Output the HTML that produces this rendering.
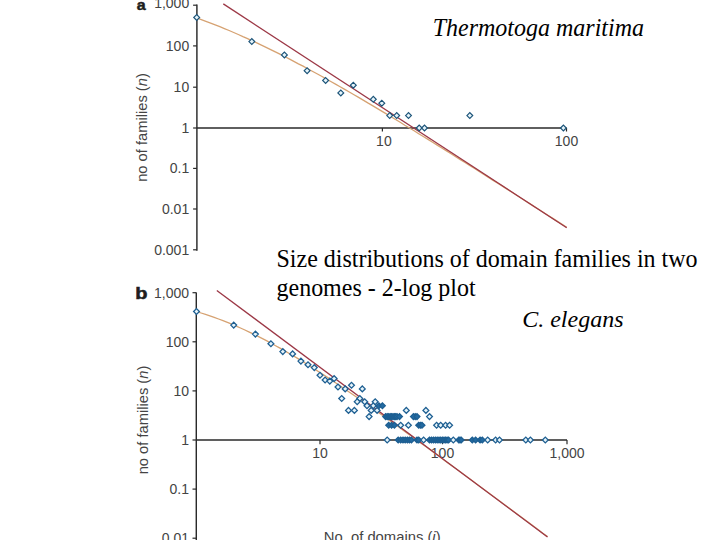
<!DOCTYPE html>
<html><head><meta charset="utf-8"><style>
html,body{margin:0;padding:0;background:#fff;}
body{width:720px;height:540px;overflow:hidden;position:relative;}
svg{position:absolute;left:0;top:0;}
.t{font-family:"Liberation Sans",sans-serif;fill:#444444;}
.s{font-family:"Liberation Serif",serif;fill:#000;}
</style></head><body>
<svg width="720" height="540" viewBox="0 0 720 540">
<line x1="196.9" y1="4.6" x2="196.9" y2="250.8" stroke="#2a2a2a" stroke-width="1.45"/>
<line x1="193.1" y1="5.2" x2="196.9" y2="5.2" stroke="#2a2a2a" stroke-width="1.2"/>
<text class="t" x="189.2" y="8.2" font-size="14" text-anchor="end">1,000</text>
<line x1="193.1" y1="45.9" x2="196.9" y2="45.9" stroke="#2a2a2a" stroke-width="1.2"/>
<text class="t" x="189.2" y="50.9" font-size="14" text-anchor="end">100</text>
<line x1="193.1" y1="87.2" x2="196.9" y2="87.2" stroke="#2a2a2a" stroke-width="1.2"/>
<text class="t" x="189.2" y="92.2" font-size="14" text-anchor="end">10</text>
<line x1="193.1" y1="128.0" x2="196.9" y2="128.0" stroke="#2a2a2a" stroke-width="1.2"/>
<text class="t" x="189.2" y="133.0" font-size="14" text-anchor="end">1</text>
<line x1="193.1" y1="168.4" x2="196.9" y2="168.4" stroke="#2a2a2a" stroke-width="1.2"/>
<text class="t" x="189.2" y="173.4" font-size="14" text-anchor="end">0.1</text>
<line x1="193.1" y1="209.0" x2="196.9" y2="209.0" stroke="#2a2a2a" stroke-width="1.2"/>
<text class="t" x="189.2" y="214.0" font-size="14" text-anchor="end">0.01</text>
<line x1="193.1" y1="249.8" x2="196.9" y2="249.8" stroke="#2a2a2a" stroke-width="1.2"/>
<text class="t" x="189.2" y="254.8" font-size="14" text-anchor="end">0.001</text>
<line x1="196.9" y1="128.0" x2="566.5" y2="128.0" stroke="#2a2a2a" stroke-width="1.5"/>
<line x1="382.4" y1="128.0" x2="382.4" y2="131.5" stroke="#2a2a2a" stroke-width="1.2"/>
<text class="t" x="383.9" y="145.5" font-size="14" text-anchor="middle">10</text>
<line x1="566.5" y1="128.0" x2="566.5" y2="131.5" stroke="#2a2a2a" stroke-width="1.2"/>
<text class="t" x="566.5" y="145.5" font-size="14" text-anchor="middle">100</text>
<text transform="translate(136.8,9.6) scale(1.08,1)" font-family="Liberation Sans" font-weight="bold" font-size="14.8" fill="#1e1e1e" stroke="#1e1e1e" stroke-width="0.5">a</text>
<text class="t" transform="translate(147.4,127.5) rotate(-90)" font-size="14.7" text-anchor="middle">no of families (<tspan font-style="italic">n</tspan>)</text>
<polyline points="196.7,17.9 201.3,19.6 205.9,21.3 210.6,23.1 215.2,24.9 219.8,26.7 224.4,28.6 229.1,30.5 233.7,32.5 238.3,34.5 242.9,36.6 247.6,38.6 252.2,40.8 256.8,42.9 261.4,45.1 266.1,47.3 270.7,49.6 275.3,51.9 279.9,54.2 284.6,56.5 289.2,58.9 293.8,61.3 298.4,63.8 303.1,66.2 307.7,68.7 312.3,71.2 317.0,73.7 321.6,76.3 326.2,78.9 330.8,81.5 335.5,84.1 340.1,86.7 344.7,89.4 349.3,92.0 354.0,94.7 358.6,97.4 363.2,100.1 367.8,102.9 372.5,105.6 377.1,108.4 381.7,111.1 386.3,113.9 391.0,116.7 395.6,119.5 400.2,122.3 404.8,125.2 409.5,128.0 414.1,130.8 418.7,133.7 423.3,136.5 428.0,139.4 432.6,142.3 437.2,145.1 441.8,148.0 446.5,150.9 451.1,153.8 455.7,156.7 460.3,159.6 465.0,162.5 469.6,165.4 474.2,168.3 478.8,171.3 483.5,174.2 488.1,177.1 492.7,180.1 497.3,183.0 502.0,185.9 506.6,188.9 511.2,191.8 515.8,194.8 520.5,197.7 525.1,200.7 529.7,203.6 534.3,206.6 539.0,209.5 543.6,212.5 548.2,215.5 552.8,218.4 557.5,221.4 562.1,224.3 566.7,227.3" fill="none" stroke="#d6a272" stroke-width="1.3"/>
<line x1="223.3" y1="3.9" x2="566.7" y2="227.8" stroke="#9c3846" stroke-width="1.3"/>
<path d="M193.8 17.4L196.7 14.5L199.6 17.4L196.7 20.3Z" fill="#e6f4fa" stroke="#1c5479" stroke-width="1.2"/>
<path d="M248.9 41.6L251.8 38.7L254.7 41.6L251.8 44.5Z" fill="#e6f4fa" stroke="#1c5479" stroke-width="1.2"/>
<path d="M281.5 54.9L284.4 52.0L287.3 54.9L284.4 57.8Z" fill="#e6f4fa" stroke="#1c5479" stroke-width="1.2"/>
<path d="M304.2 70.7L307.1 67.8L310.0 70.7L307.1 73.6Z" fill="#e6f4fa" stroke="#1c5479" stroke-width="1.2"/>
<path d="M322.7 80.4L325.6 77.5L328.5 80.4L325.6 83.3Z" fill="#e6f4fa" stroke="#1c5479" stroke-width="1.2"/>
<path d="M337.9 92.9L340.8 90.0L343.7 92.9L340.8 95.8Z" fill="#e6f4fa" stroke="#1c5479" stroke-width="1.2"/>
<path d="M350.4 85.2L353.3 82.3L356.2 85.2L353.3 88.1Z" fill="#e6f4fa" stroke="#1c5479" stroke-width="1.2"/>
<path d="M370.4 99.3L373.3 96.4L376.2 99.3L373.3 102.2Z" fill="#e6f4fa" stroke="#1c5479" stroke-width="1.2"/>
<path d="M378.9 103.2L381.8 100.3L384.7 103.2L381.8 106.1Z" fill="#e6f4fa" stroke="#1c5479" stroke-width="1.2"/>
<path d="M386.8 115.6L389.7 112.7L392.6 115.6L389.7 118.5Z" fill="#e6f4fa" stroke="#1c5479" stroke-width="1.2"/>
<path d="M393.8 115.6L396.7 112.7L399.6 115.6L396.7 118.5Z" fill="#e6f4fa" stroke="#1c5479" stroke-width="1.2"/>
<path d="M405.6 115.6L408.5 112.7L411.4 115.6L408.5 118.5Z" fill="#e6f4fa" stroke="#1c5479" stroke-width="1.2"/>
<path d="M416.3 128.0L419.2 125.1L422.1 128.0L419.2 130.9Z" fill="#e6f4fa" stroke="#1c5479" stroke-width="1.2"/>
<path d="M421.6 128.0L424.5 125.1L427.4 128.0L424.5 130.9Z" fill="#e6f4fa" stroke="#1c5479" stroke-width="1.2"/>
<path d="M466.9 115.6L469.8 112.7L472.7 115.6L469.8 118.5Z" fill="#e6f4fa" stroke="#1c5479" stroke-width="1.2"/>
<path d="M560.5 128.0L563.4 125.1L566.3 128.0L563.4 130.9Z" fill="#e6f4fa" stroke="#1c5479" stroke-width="1.2"/>
<line x1="196.3" y1="292.5" x2="196.3" y2="540" stroke="#2a2a2a" stroke-width="1.45"/>
<line x1="192.5" y1="292.7" x2="196.3" y2="292.7" stroke="#2a2a2a" stroke-width="1.2"/>
<text class="t" x="189" y="297.7" font-size="14" text-anchor="end">1,000</text>
<line x1="192.5" y1="341.8" x2="196.3" y2="341.8" stroke="#2a2a2a" stroke-width="1.2"/>
<text class="t" x="189" y="346.8" font-size="14" text-anchor="end">100</text>
<line x1="192.5" y1="390.9" x2="196.3" y2="390.9" stroke="#2a2a2a" stroke-width="1.2"/>
<text class="t" x="189" y="395.9" font-size="14" text-anchor="end">10</text>
<line x1="192.5" y1="440.0" x2="196.3" y2="440.0" stroke="#2a2a2a" stroke-width="1.2"/>
<text class="t" x="189" y="445.0" font-size="14" text-anchor="end">1</text>
<line x1="192.5" y1="489.1" x2="196.3" y2="489.1" stroke="#2a2a2a" stroke-width="1.2"/>
<text class="t" x="189" y="494.1" font-size="14" text-anchor="end">0.1</text>
<line x1="192.5" y1="538.2" x2="196.3" y2="538.2" stroke="#2a2a2a" stroke-width="1.2"/>
<text class="t" x="189" y="543.2" font-size="14" text-anchor="end">0.01</text>
<line x1="196.3" y1="440.0" x2="567" y2="440.0" stroke="#2a2a2a" stroke-width="1.5"/>
<line x1="320" y1="440.0" x2="320" y2="444.2" stroke="#2a2a2a" stroke-width="1.2"/>
<text class="t" x="320" y="458.0" font-size="14" text-anchor="middle">10</text>
<line x1="442.5" y1="440.0" x2="442.5" y2="444.2" stroke="#2a2a2a" stroke-width="1.2"/>
<text class="t" x="442.5" y="458.0" font-size="14" text-anchor="middle">100</text>
<line x1="567" y1="440.0" x2="567" y2="444.2" stroke="#2a2a2a" stroke-width="1.2"/>
<text class="t" x="567" y="458.0" font-size="14" text-anchor="middle">1,000</text>
<text transform="translate(135.2,298.9) scale(1.25,1)" font-family="Liberation Sans" font-weight="bold" font-size="16" fill="#1e1e1e" stroke="#1e1e1e" stroke-width="0.5">b</text>
<text class="t" transform="translate(147.6,420) rotate(-90)" font-size="14.7" text-anchor="middle">no of families (<tspan font-style="italic">n</tspan>)</text>
<text class="t" x="323.8" y="542" font-size="14.8">No. of domains (<tspan font-style="italic">i</tspan>)</text>
<polyline points="196.7,311.7 201.1,313.0 205.5,314.4 209.9,315.9 214.2,317.4 218.6,319.0 223.0,320.7 227.4,322.4 231.8,324.2 236.2,326.1 240.5,328.0 244.9,330.0 249.3,332.1 253.7,334.2 258.1,336.4 262.5,338.6 266.9,340.9 271.2,343.3 275.6,345.7 280.0,348.1 284.4,350.6 288.8,353.2 293.2,355.8 297.6,358.4 301.9,361.1 306.3,363.8 310.7,366.6 315.1,369.4 319.5,372.2 323.9,375.0 328.2,377.9 332.6,380.8 337.0,383.8 341.4,386.7 345.8,389.7 350.2,392.7 354.6,395.7 358.9,398.8 363.3,401.8 367.7,404.9 372.1,408.0 376.5,411.1 380.9,414.2 385.3,417.3 389.6,420.4 394.0,423.6 398.4,426.7 402.8,429.9 407.2,433.1 411.6,436.3 415.9,439.4 420.3,442.6 424.7,445.8 429.1,449.0 433.5,452.2 437.9,455.5 442.3,458.7 446.6,461.9 451.0,465.1 455.4,468.3 459.8,471.6 464.2,474.8 468.6,478.1 473.0,481.3 477.3,484.5 481.7,487.8 486.1,491.0 490.5,494.3 494.9,497.5 499.3,500.8 503.6,504.0 508.0,507.3 512.4,510.5 516.8,513.8 521.2,517.1 525.6,520.3 530.0,523.6 534.3,526.8 538.7,530.1 543.1,533.4 547.5,536.6" fill="none" stroke="#d6a272" stroke-width="1.3"/>
<line x1="216.8" y1="290.4" x2="547.5" y2="537" stroke="#9c3846" stroke-width="1.3"/>
<path d="M193.6 311.5L196.5 308.6L199.4 311.5L196.5 314.4Z" fill="#e6f4fa" stroke="#1e5f92" stroke-width="1.3"/>
<path d="M230.8 325.1L233.7 322.2L236.6 325.1L233.7 328.0Z" fill="#e6f4fa" stroke="#1e5f92" stroke-width="1.3"/>
<path d="M252.5 334.1L255.4 331.2L258.3 334.1L255.4 337.0Z" fill="#e6f4fa" stroke="#1e5f92" stroke-width="1.3"/>
<path d="M268.0 343.8L270.9 340.9L273.8 343.8L270.9 346.7Z" fill="#e6f4fa" stroke="#1e5f92" stroke-width="1.3"/>
<path d="M279.9 351.6L282.8 348.7L285.7 351.6L282.8 354.5Z" fill="#e6f4fa" stroke="#1e5f92" stroke-width="1.3"/>
<path d="M289.7 353.9L292.6 351.0L295.5 353.9L292.6 356.8Z" fill="#e6f4fa" stroke="#1e5f92" stroke-width="1.3"/>
<path d="M298.0 361.1L300.9 358.2L303.8 361.1L300.9 364.0Z" fill="#e6f4fa" stroke="#1e5f92" stroke-width="1.3"/>
<path d="M305.1 364.7L308.0 361.8L310.9 364.7L308.0 367.6Z" fill="#e6f4fa" stroke="#1e5f92" stroke-width="1.3"/>
<path d="M311.4 367.6L314.3 364.7L317.2 367.6L314.3 370.5Z" fill="#e6f4fa" stroke="#1e5f92" stroke-width="1.3"/>
<path d="M317.1 375.3L320.0 372.4L322.9 375.3L320.0 378.2Z" fill="#e6f4fa" stroke="#1e5f92" stroke-width="1.3"/>
<path d="M322.2 380.0L325.1 377.1L328.0 380.0L325.1 382.9Z" fill="#e6f4fa" stroke="#1e5f92" stroke-width="1.3"/>
<path d="M326.9 381.1L329.8 378.2L332.7 381.1L329.8 384.0Z" fill="#e6f4fa" stroke="#1e5f92" stroke-width="1.3"/>
<path d="M331.2 378.6L334.1 375.7L337.0 378.6L334.1 381.5Z" fill="#e6f4fa" stroke="#1e5f92" stroke-width="1.3"/>
<path d="M335.1 387.0L338.0 384.1L340.9 387.0L338.0 389.9Z" fill="#e6f4fa" stroke="#1e5f92" stroke-width="1.3"/>
<path d="M342.3 388.9L345.2 386.0L348.1 388.9L345.2 391.8Z" fill="#e6f4fa" stroke="#1e5f92" stroke-width="1.3"/>
<path d="M348.6 385.3L351.5 382.4L354.4 385.3L351.5 388.2Z" fill="#e6f4fa" stroke="#1e5f92" stroke-width="1.3"/>
<path d="M359.4 388.9L362.3 386.0L365.2 388.9L362.3 391.8Z" fill="#e6f4fa" stroke="#1e5f92" stroke-width="1.3"/>
<path d="M338.8 398.5L341.7 395.6L344.6 398.5L341.7 401.4Z" fill="#e6f4fa" stroke="#1e5f92" stroke-width="1.3"/>
<path d="M356.9 398.5L359.8 395.6L362.7 398.5L359.8 401.4Z" fill="#e6f4fa" stroke="#1e5f92" stroke-width="1.3"/>
<path d="M345.6 410.4L348.5 407.5L351.4 410.4L348.5 413.3Z" fill="#e6f4fa" stroke="#1e5f92" stroke-width="1.3"/>
<path d="M351.5 410.4L354.4 407.5L357.3 410.4L354.4 413.3Z" fill="#e6f4fa" stroke="#1e5f92" stroke-width="1.3"/>
<path d="M354.3 401.8L357.2 398.9L360.1 401.8L357.2 404.7Z" fill="#e6f4fa" stroke="#1e5f92" stroke-width="1.3"/>
<path d="M361.8 401.8L364.7 398.9L367.6 401.8L364.7 404.7Z" fill="#e6f4fa" stroke="#1e5f92" stroke-width="1.3"/>
<path d="M364.1 405.7L367.0 402.8L369.9 405.7L367.0 408.6Z" fill="#e6f4fa" stroke="#1e5f92" stroke-width="1.3"/>
<path d="M366.2 416.6L369.1 413.7L372.0 416.6L369.1 419.5Z" fill="#e6f4fa" stroke="#1e5f92" stroke-width="1.3"/>
<path d="M368.3 410.4L371.2 407.5L374.1 410.4L371.2 413.3Z" fill="#e6f4fa" stroke="#1e5f92" stroke-width="1.3"/>
<path d="M370.4 405.7L373.3 402.8L376.2 405.7L373.3 408.6Z" fill="#e6f4fa" stroke="#1e5f92" stroke-width="1.3"/>
<path d="M372.3 401.8L375.2 398.9L378.1 401.8L375.2 404.7Z" fill="#e6f4fa" stroke="#1e5f92" stroke-width="1.3"/>
<path d="M374.2 410.4L377.1 407.5L380.0 410.4L377.1 413.3Z" fill="#e6f4fa" stroke="#1e5f92" stroke-width="1.3"/>
<path d="M376.0 405.7L378.9 402.8L381.8 405.7L378.9 408.6Z" fill="#236ba3" stroke="#1e5f92" stroke-width="1.3"/>
<path d="M379.5 405.7L382.4 402.8L385.3 405.7L382.4 408.6Z" fill="#236ba3" stroke="#1e5f92" stroke-width="1.3"/>
<path d="M403.4 410.4L406.3 407.5L409.2 410.4L406.3 413.3Z" fill="#e6f4fa" stroke="#1e5f92" stroke-width="1.3"/>
<path d="M423.0 410.4L425.9 407.5L428.8 410.4L425.9 413.3Z" fill="#e6f4fa" stroke="#1e5f92" stroke-width="1.3"/>
<path d="M382.7 416.6L385.6 413.7L388.5 416.6L385.6 419.5Z" fill="#236ba3" stroke="#1e5f92" stroke-width="1.3"/>
<path d="M384.3 416.6L387.2 413.7L390.1 416.6L387.2 419.5Z" fill="#236ba3" stroke="#1e5f92" stroke-width="1.3"/>
<path d="M385.8 416.6L388.7 413.7L391.6 416.6L388.7 419.5Z" fill="#236ba3" stroke="#1e5f92" stroke-width="1.3"/>
<path d="M387.3 416.6L390.2 413.7L393.1 416.6L390.2 419.5Z" fill="#236ba3" stroke="#1e5f92" stroke-width="1.3"/>
<path d="M388.7 416.6L391.6 413.7L394.5 416.6L391.6 419.5Z" fill="#236ba3" stroke="#1e5f92" stroke-width="1.3"/>
<path d="M390.1 416.6L393.0 413.7L395.9 416.6L393.0 419.5Z" fill="#236ba3" stroke="#1e5f92" stroke-width="1.3"/>
<path d="M391.5 416.6L394.4 413.7L397.3 416.6L394.4 419.5Z" fill="#236ba3" stroke="#1e5f92" stroke-width="1.3"/>
<path d="M392.8 416.6L395.7 413.7L398.6 416.6L395.7 419.5Z" fill="#236ba3" stroke="#1e5f92" stroke-width="1.3"/>
<path d="M394.1 416.6L397.0 413.7L399.9 416.6L397.0 419.5Z" fill="#236ba3" stroke="#1e5f92" stroke-width="1.3"/>
<path d="M396.6 416.6L399.5 413.7L402.4 416.6L399.5 419.5Z" fill="#236ba3" stroke="#1e5f92" stroke-width="1.3"/>
<path d="M412.3 416.6L415.2 413.7L418.1 416.6L415.2 419.5Z" fill="#236ba3" stroke="#1e5f92" stroke-width="1.3"/>
<path d="M410.5 416.6L413.4 413.7L416.3 416.6L413.4 419.5Z" fill="#236ba3" stroke="#1e5f92" stroke-width="1.3"/>
<path d="M414.1 416.6L417.0 413.7L419.9 416.6L417.0 419.5Z" fill="#236ba3" stroke="#1e5f92" stroke-width="1.3"/>
<path d="M426.6 416.6L429.5 413.7L432.4 416.6L429.5 419.5Z" fill="#e6f4fa" stroke="#1e5f92" stroke-width="1.3"/>
<path d="M385.8 425.2L388.7 422.3L391.6 425.2L388.7 428.1Z" fill="#236ba3" stroke="#1e5f92" stroke-width="1.3"/>
<path d="M388.7 425.2L391.6 422.3L394.5 425.2L391.6 428.1Z" fill="#236ba3" stroke="#1e5f92" stroke-width="1.3"/>
<path d="M391.5 425.2L394.4 422.3L397.3 425.2L394.4 428.1Z" fill="#236ba3" stroke="#1e5f92" stroke-width="1.3"/>
<path d="M397.8 425.2L400.7 422.3L403.6 425.2L400.7 428.1Z" fill="#e6f4fa" stroke="#1e5f92" stroke-width="1.3"/>
<path d="M405.5 425.2L408.4 422.3L411.3 425.2L408.4 428.1Z" fill="#e6f4fa" stroke="#1e5f92" stroke-width="1.3"/>
<path d="M415.8 425.2L418.7 422.3L421.6 425.2L418.7 428.1Z" fill="#236ba3" stroke="#1e5f92" stroke-width="1.3"/>
<path d="M417.5 425.2L420.4 422.3L423.3 425.2L420.4 428.1Z" fill="#236ba3" stroke="#1e5f92" stroke-width="1.3"/>
<path d="M419.1 425.2L422.0 422.3L424.9 425.2L422.0 428.1Z" fill="#236ba3" stroke="#1e5f92" stroke-width="1.3"/>
<path d="M433.7 425.2L436.6 422.3L439.5 425.2L436.6 428.1Z" fill="#e6f4fa" stroke="#1e5f92" stroke-width="1.3"/>
<path d="M437.8 425.2L440.7 422.3L443.6 425.2L440.7 428.1Z" fill="#e6f4fa" stroke="#1e5f92" stroke-width="1.3"/>
<path d="M442.7 425.2L445.6 422.3L448.5 425.2L445.6 428.1Z" fill="#e6f4fa" stroke="#1e5f92" stroke-width="1.3"/>
<path d="M446.7 425.2L449.6 422.3L452.5 425.2L449.6 428.1Z" fill="#e6f4fa" stroke="#1e5f92" stroke-width="1.3"/>
<path d="M384.3 440.0L387.2 437.1L390.1 440.0L387.2 442.9Z" fill="#e6f4fa" stroke="#1e5f92" stroke-width="1.3"/>
<path d="M395.3 440.0L398.2 437.1L401.1 440.0L398.2 442.9Z" fill="#236ba3" stroke="#1e5f92" stroke-width="1.3"/>
<path d="M397.8 440.0L400.7 437.1L403.6 440.0L400.7 442.9Z" fill="#236ba3" stroke="#1e5f92" stroke-width="1.3"/>
<path d="M400.1 440.0L403.0 437.1L405.9 440.0L403.0 442.9Z" fill="#236ba3" stroke="#1e5f92" stroke-width="1.3"/>
<path d="M402.3 440.0L405.2 437.1L408.1 440.0L405.2 442.9Z" fill="#236ba3" stroke="#1e5f92" stroke-width="1.3"/>
<path d="M404.5 440.0L407.4 437.1L410.3 440.0L407.4 442.9Z" fill="#236ba3" stroke="#1e5f92" stroke-width="1.3"/>
<path d="M406.5 440.0L409.4 437.1L412.3 440.0L409.4 442.9Z" fill="#236ba3" stroke="#1e5f92" stroke-width="1.3"/>
<path d="M408.5 440.0L411.4 437.1L414.3 440.0L411.4 442.9Z" fill="#236ba3" stroke="#1e5f92" stroke-width="1.3"/>
<path d="M414.1 440.0L417.0 437.1L419.9 440.0L417.0 442.9Z" fill="#236ba3" stroke="#1e5f92" stroke-width="1.3"/>
<path d="M415.8 440.0L418.7 437.1L421.6 440.0L418.7 442.9Z" fill="#236ba3" stroke="#1e5f92" stroke-width="1.3"/>
<path d="M420.7 440.0L423.6 437.1L426.5 440.0L423.6 442.9Z" fill="#e6f4fa" stroke="#1e5f92" stroke-width="1.3"/>
<path d="M426.6 440.0L429.5 437.1L432.4 440.0L429.5 442.9Z" fill="#236ba3" stroke="#1e5f92" stroke-width="1.3"/>
<path d="M428.6 440.0L431.5 437.1L434.4 440.0L431.5 442.9Z" fill="#236ba3" stroke="#1e5f92" stroke-width="1.3"/>
<path d="M430.6 440.0L433.5 437.1L436.4 440.0L433.5 442.9Z" fill="#236ba3" stroke="#1e5f92" stroke-width="1.3"/>
<path d="M432.5 440.0L435.4 437.1L438.3 440.0L435.4 442.9Z" fill="#236ba3" stroke="#1e5f92" stroke-width="1.3"/>
<path d="M434.3 440.0L437.2 437.1L440.1 440.0L437.2 442.9Z" fill="#236ba3" stroke="#1e5f92" stroke-width="1.3"/>
<path d="M436.1 440.0L439.0 437.1L441.9 440.0L439.0 442.9Z" fill="#236ba3" stroke="#1e5f92" stroke-width="1.3"/>
<path d="M437.8 440.0L440.7 437.1L443.6 440.0L440.7 442.9Z" fill="#236ba3" stroke="#1e5f92" stroke-width="1.3"/>
<path d="M439.5 440.0L442.4 437.1L445.3 440.0L442.4 442.9Z" fill="#236ba3" stroke="#1e5f92" stroke-width="1.3"/>
<path d="M441.1 440.0L444.0 437.1L446.9 440.0L444.0 442.9Z" fill="#236ba3" stroke="#1e5f92" stroke-width="1.3"/>
<path d="M442.7 440.0L445.6 437.1L448.5 440.0L445.6 442.9Z" fill="#236ba3" stroke="#1e5f92" stroke-width="1.3"/>
<path d="M444.2 440.0L447.1 437.1L450.0 440.0L447.1 442.9Z" fill="#236ba3" stroke="#1e5f92" stroke-width="1.3"/>
<path d="M445.7 440.0L448.6 437.1L451.5 440.0L448.6 442.9Z" fill="#236ba3" stroke="#1e5f92" stroke-width="1.3"/>
<path d="M450.4 440.0L453.3 437.1L456.2 440.0L453.3 442.9Z" fill="#e6f4fa" stroke="#1e5f92" stroke-width="1.3"/>
<path d="M455.9 440.0L458.8 437.1L461.7 440.0L458.8 442.9Z" fill="#236ba3" stroke="#1e5f92" stroke-width="1.3"/>
<path d="M457.1 440.0L460.0 437.1L462.9 440.0L460.0 442.9Z" fill="#236ba3" stroke="#1e5f92" stroke-width="1.3"/>
<path d="M458.3 440.0L461.2 437.1L464.1 440.0L461.2 442.9Z" fill="#236ba3" stroke="#1e5f92" stroke-width="1.3"/>
<path d="M469.4 440.0L472.3 437.1L475.2 440.0L472.3 442.9Z" fill="#236ba3" stroke="#1e5f92" stroke-width="1.3"/>
<path d="M472.7 440.0L475.6 437.1L478.5 440.0L475.6 442.9Z" fill="#236ba3" stroke="#1e5f92" stroke-width="1.3"/>
<path d="M477.2 440.0L480.1 437.1L483.0 440.0L480.1 442.9Z" fill="#236ba3" stroke="#1e5f92" stroke-width="1.3"/>
<path d="M479.4 440.0L482.3 437.1L485.2 440.0L482.3 442.9Z" fill="#236ba3" stroke="#1e5f92" stroke-width="1.3"/>
<path d="M484.8 440.0L487.7 437.1L490.6 440.0L487.7 442.9Z" fill="#e6f4fa" stroke="#1e5f92" stroke-width="1.3"/>
<path d="M492.7 440.0L495.6 437.1L498.5 440.0L495.6 442.9Z" fill="#e6f4fa" stroke="#1e5f92" stroke-width="1.3"/>
<path d="M496.6 440.0L499.5 437.1L502.4 440.0L499.5 442.9Z" fill="#e6f4fa" stroke="#1e5f92" stroke-width="1.3"/>
<path d="M522.9 440.0L525.8 437.1L528.7 440.0L525.8 442.9Z" fill="#e6f4fa" stroke="#1e5f92" stroke-width="1.3"/>
<path d="M527.5 440.0L530.4 437.1L533.3 440.0L530.4 442.9Z" fill="#e6f4fa" stroke="#1e5f92" stroke-width="1.3"/>
<path d="M542.4 440.0L545.3 437.1L548.2 440.0L545.3 442.9Z" fill="#e6f4fa" stroke="#1e5f92" stroke-width="1.3"/>
<text class="s" transform="translate(432.7,35.8) scale(1,1.06)" font-size="24" font-style="italic">Thermotoga maritima</text>
<text class="s" transform="translate(276.5,266.9) scale(1,1.04)" font-size="24">Size distributions of domain families in two</text>
<text class="s" transform="translate(276.5,295.5) scale(1,1.04)" font-size="24">genomes - 2-log plot</text>
<text class="s" transform="translate(522.2,327.4)" font-size="24" font-style="italic">C. elegans</text>
</svg></body></html>
